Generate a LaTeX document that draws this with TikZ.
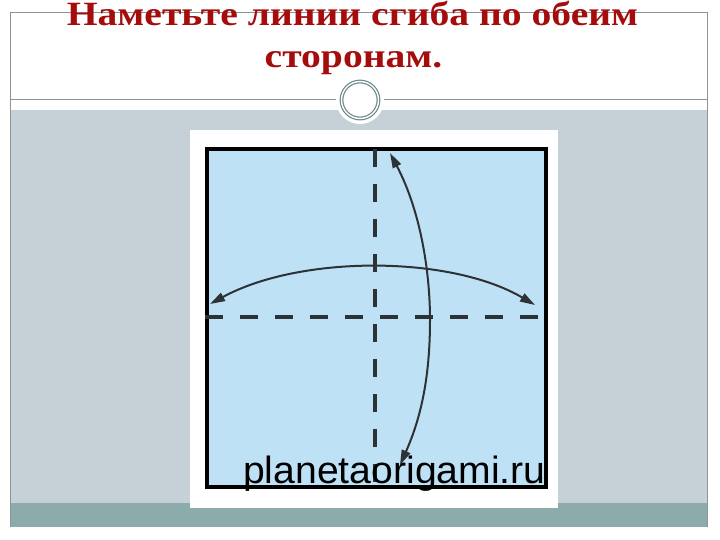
\documentclass[tikz,border=0pt]{standalone}
\usepackage{fontspec}
\setmainfont{Liberation Serif}
\newfontfamily\wmfont{Liberation Sans}
\usetikzlibrary{arrows.meta}
\definecolor{titlered}{RGB}{165,12,12}
\definecolor{slidegray}{RGB}{197,209,214}
\definecolor{framegray}{RGB}{140,150,150}
\definecolor{tealbar}{RGB}{140,172,172}
\definecolor{ringgray}{RGB}{110,135,135}
\definecolor{paperblue}{RGB}{190,225,246}
\definecolor{foldink}{RGB}{45,50,55}
\tikzset{
  titletext/.style={font=\fontsize{34}{42}\selectfont\bfseries, text=titlered, align=center, inner sep=0pt, xscale=1.165},
  foldline/.style={draw=foldink, line width=4pt, dash pattern=on 18pt off 17pt},
  arcarrow/.style={draw=foldink, line width=2pt, {Triangle[length=15pt,width=9pt]}-{Triangle[length=15pt,width=9pt]}},
}
\begin{document}
\begin{tikzpicture}[x=1pt,y=-1pt]
\useasboundingbox (0,0) rectangle (720,540);
\fill[white] (0,0) rectangle (720,540);
% slide background
\fill[slidegray] (10,110) rectangle (707,503);
\fill[tealbar] (10,503) rectangle (707,527);
\draw[framegray, line width=0.8pt] (10,527) -- (10,12) -- (707,12) -- (707,527);
\draw[framegray, line width=1pt] (10,100) -- (707,100);
% ornament
\node[circle, fill=white, minimum size=48pt, inner sep=0pt] (orn) at (360,100) {};
\node[circle, draw=ringgray, double=white, double distance=1.4pt, line width=1.2pt, fill=white, minimum size=37pt, inner sep=0pt] (ring) at (360,100) {};
% title
\node[titletext, anchor=base] (t1) at (352.5,26) {Наметьте линии сгиба по обеим};
\node[titletext, anchor=base] (t2) at (353.5,68) {сторонам.};
% picture
\fill[white] (190,130) rectangle (558,508);
\node[draw=black, line width=4pt, fill=paperblue, minimum width=339pt, minimum height=338pt, inner sep=0pt, anchor=north west] (sq) at (205,147) {};
\coordinate (vt) at (375,149);
\coordinate (vb) at (375,485);
\coordinate (hl) at (205,317);
\coordinate (hr) at (544,317);
\draw[foldline] (vt) -- (vb);
\draw[foldline] (hl) -- (hr);
\coordinate (al) at (210,304);
\coordinate (ar) at (535,305);
\draw[arcarrow] (al) .. controls (300,255) and (450,255) .. (ar);
\coordinate (at) at (390,153);
\coordinate (am) at (430,320);
\coordinate (ab) at (400,465);
\draw[arcarrow] (at) .. controls (420,210) and (430,270) .. (am) .. controls (430,380) and (420,420) .. (ab);
\node[font=\wmfont\fontsize{38}{38}\selectfont, anchor=base west, inner sep=0pt, xscale=1.03] (wm) at (243,483) {planetaorigami.ru};
\end{tikzpicture}
\end{document}
